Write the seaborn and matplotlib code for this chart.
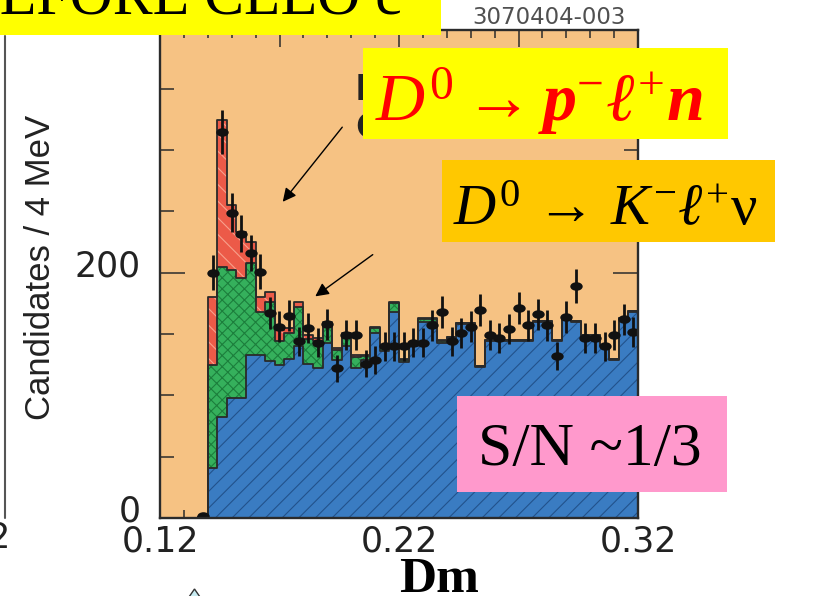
import numpy as np
import pandas as pd
import matplotlib
matplotlib.use("Agg")
import matplotlib.pyplot as plt
import seaborn as sns
from matplotlib.path import Path
from matplotlib.transforms import Affine2D, ScaledTranslation
from matplotlib.patches import Rectangle, Polygon, FancyArrowPatch
from matplotlib.lines import Line2D
from matplotlib.ticker import FixedLocator, FixedFormatter, MultipleLocator

# Mass-difference binning (GeV), 4 MeV per bin
dm_low = 0.120
dm_high = 0.320
n_bins = 50

# Fit components stacked in the histogram (candidates per bin)
combinatoric = [0, 0, 0, 0, 1,
                41, 82, 98, 98, 133,
                133, 128, 125, 130, 140,
                126, 122, 143, 129, 140,
                122, 129, 151, 136, 168,
                127, 140, 160, 160, 143,
                147, 158, 158, 123, 144,
                144, 144, 144, 144, 160,
                160, 144, 163, 160, 148,
                148, 140, 129, 162, 168]
k_lnu = [0, 0, 0, 0, 0,
         84, 123, 104, 98, 75,
         35, 48, 19, 21, 32,
         20, 22, 15, 8, 9,
         9, 3, 4, 4, 7,
         2, 2, 2, 2, 1,
         1, 1, 1, 1, 1,
         1, 1, 1, 1, 1,
         1, 1, 1, 1, 1,
         1, 1, 1, 1, 1]
pi_lnu = [0, 0, 0, 0, 0,
          55, 120, 53, 37, 17,
          12, 8, 9, 4, 4,
          3, 3, 2, 2, 2,
          2, 1, 1, 1, 1,
          1, 1, 1, 1, 1,
          0, 0, 0, 0, 0,
          0, 0, 0, 0, 0,
          0, 0, 0, 0, 0,
          0, 0, 0, 0, 0]
observed = [0, 0, 0, 0, 2,
            200, 315, 249, 232, 216,
            201, 167, 156, 165, 144,
            155, 143, 158, 122, 149,
            149, 126, 129, 140, 140,
            140, 143, 143, 157, 168,
            144, 151, 156, 170, 149,
            147, 154, 171, 157, 166,
            157, 132, 164, 189, 147,
            147, 140, 149, 162, 152]

x_major = [0.12, 0.17, 0.22, 0.27, 0.32]
x_major_labels = ["0.12", "", "0.22", "", "0.32"]
y_major = [0, 200, 400]
y_major_labels = ["0", "200", ""]

sns.set_style("ticks")
plt.rcParams["font.family"] = ["DejaVu Sans"]
plt.rcParams["mathtext.fontset"] = "custom"
plt.rcParams["mathtext.rm"] = "Liberation Serif"
plt.rcParams["mathtext.it"] = "Liberation Serif:italic"
plt.rcParams["mathtext.bf"] = "Liberation Serif:bold:italic"
plt.rcParams["hatch.linewidth"] = 0.8

W, H = 814, 596
fig = plt.figure(figsize=(W / 100, H / 100), dpi=100)
fig.patch.set_facecolor("white")


def fx(px):
    return px / W


def fy(py):
    return 1 - py / H


ORANGE = "#F6C283"
BLUE = "#3A7CC2"
GREEN = "#35B05C"
RED = "#EC5A48"
OUTLINE = "#2a2a2a"

ax = fig.add_axes([fx(160), fy(518), (638 - 160) / W, (518 - 30) / H])
ax.set_facecolor(ORANGE)

bin_width = (dm_high - dm_low) / n_bins
centers = dm_low + bin_width * (np.arange(n_bins) + 0.5)
df = pd.DataFrame({
    "dm": centers,
    "comb": combinatoric,
    "k": k_lnu,
    "pi": pi_lnu,
    "obs": observed,
})
df["comb_k"] = df["comb"] + df["k"]
df["total"] = df["comb_k"] + df["pi"]

hist_kws = dict(bins=n_bins, binrange=(dm_low, dm_high), element="step")

# filled, hatched layers: total (pi on top), comb+K, comb
layers = [
    ("total", RED, "#F7A08C", "\\\\"),
    ("comb_k", GREEN, "#1C7E3C", "xxx"),
    ("comb", BLUE, "#22528C", "//"),
]
for col, fc, hc, hatch in layers:
    n0 = len(ax.collections)
    sns.histplot(data=df, x="dm", weights=col, fill=True, color=fc, alpha=1,
                 linewidth=0, ax=ax, **hist_kws)
    poly = ax.collections[n0]
    poly.set_facecolor(fc)
    poly.set_edgecolor(hc)
    poly.set_linewidth(0)
    poly.set_hatch(hatch)

# outlines of every layer
for col, _, _, _ in layers:
    n0 = len(ax.collections)
    sns.histplot(data=df, x="dm", weights=col, fill=True, color=OUTLINE,
                 alpha=1, linewidth=1.3, ax=ax, **hist_kws)
    poly = ax.collections[n0]
    poly.set_facecolor("none")
    poly.set_edgecolor(OUTLINE)
    poly.set_linewidth(1.3)

# data points with Poisson errors
obs = df[df["obs"] > 0]
ax.errorbar(obs["dm"], obs["obs"], yerr=np.sqrt(obs["obs"]), fmt="none",
            ecolor="#111111", elinewidth=2.0, capsize=0, zorder=5)
ellipse = Path.unit_circle().transformed(Affine2D().scale(1.45, 1.0))
sns.scatterplot(data=obs, x="dm", y="obs", marker=ellipse, s=80,
                color="#111111", edgecolor="#111111", linewidth=0,
                zorder=6, legend=False, ax=ax)

ax.set_xlim(dm_low, dm_high)
ax.set_ylim(0, 398)
ax.set_xlabel("")
ax.set_ylabel("Candidates / 4 MeV", fontsize=25, family="Liberation Sans",
              color="#222222")
ax.yaxis.set_label_coords((57 - 160) / 478, (518 - 267) / 488)

ax.xaxis.set_major_locator(FixedLocator(x_major))
ax.xaxis.set_major_formatter(FixedFormatter(x_major_labels))
ax.xaxis.set_minor_locator(MultipleLocator(0.01))
ax.yaxis.set_major_locator(FixedLocator(y_major))
ax.yaxis.set_major_formatter(FixedFormatter(y_major_labels))
ax.yaxis.set_minor_locator(MultipleLocator(50))

ax.tick_params(which="both", direction="in", top=True, right=True,
               colors="#2b2b2b", width=1.1, labelsize=25, labelcolor="#222222")
ax.tick_params(axis="x", which="major", length=12, pad=5)
ax.tick_params(axis="x", which="minor", length=6)
ax.tick_params(axis="y", which="major", length=18, pad=14)
ax.tick_params(axis="y", which="minor", length=10)
for sp in ax.spines.values():
    sp.set_linewidth(1.7)
    sp.set_color("#2b2b2b")
    sp.set_zorder(7)

shift_up = ScaledTranslation(0, 10 / 100, fig.dpi_scale_trans)
for lab in ax.get_yticklabels():
    lab.set_transform(lab.get_transform() + shift_up)

# --- slide decorations around the plot ---
# neighbouring panel edge and its last tick label
fig.add_artist(Line2D([fx(5), fx(5)], [fy(36), fy(518)], color="#555555",
                      lw=1.5, transform=fig.transFigure))
fig.text(fx(11), fy(538), "0.32", ha="right", va="center", fontsize=25,
         color="#222222")

# heading strip
fig.add_artist(Rectangle((fx(0), fy(35)), fx(441), 35 / H, transform=fig.transFigure,
                         facecolor="#FFFF00", edgecolor="none", zorder=5))
fig.text(fx(-40), fy(13), "BEFORE CLEO c", family="Liberation Serif",
         fontsize=43, ha="left", va="baseline", color="black", zorder=6)

fig.text(fx(549), fy(18), "3070404-003", ha="center", va="center",
         fontsize=16.5, color="#505050", zorder=6)

# partly covered legend lines
fig.text(fx(355), fy(100), "Data", fontsize=26, weight="bold",
         color="#222222", ha="left", va="baseline", zorder=4)
fig.text(fx(355), fy(137), "Comb.", fontsize=26, weight="bold",
         color="#222222", ha="left", va="baseline", zorder=4)

# pi l nu box
fig.add_artist(Rectangle((fx(363), fy(139)), (728 - 363) / W, (139 - 48) / H,
                         transform=fig.transFigure, facecolor="#FFFF00",
                         edgecolor="none", zorder=5))
fig.text(fx(375), fy(122), r"$D^{0}\rightarrow\mathbf{p}^{-}\ell^{+}\mathbf{n}$",
         fontsize=49, color="#FF0000", ha="left", va="baseline", zorder=6)

# K l nu box
fig.add_artist(Rectangle((fx(442), fy(242)), (775 - 442) / W, (242 - 160) / H,
                         transform=fig.transFigure, facecolor="#FFC800",
                         edgecolor="none", zorder=5))
fig.text(fx(453), fy(225), r"$D^{0}\,\rightarrow\,K^{-}\ell^{+}\mathrm{\nu}$",
         fontsize=42, color="black", ha="left", va="baseline", zorder=6)

# signal-to-noise box
fig.add_artist(Rectangle((fx(457), fy(492)), (727 - 457) / W, (492 - 396) / H,
                         transform=fig.transFigure, facecolor="#FF99CC",
                         edgecolor="none", zorder=5))
fig.text(fx(478), fy(465), "S/N ~1/3", family="Liberation Serif", fontsize=44.5,
         color="black", ha="left", va="baseline", zorder=6)

# arrows to the two signal components
for (x0, y0), (x1, y1) in [((344, 125), (281, 204)), ((375, 253), (313, 298))]:
    fig.add_artist(FancyArrowPatch((fx(x0), fy(y0)), (fx(x1), fy(y1)),
                                   transform=fig.transFigure, arrowstyle="-|>",
                                   mutation_scale=20, lw=1.0, color="black",
                                   zorder=6))

# axis title under the plot
fig.text(fx(439), fy(592), "Dm", family="Liberation Serif", weight="bold",
         fontsize=37, color="black", ha="center", va="baseline", zorder=6)

# tip of a hat glyph at the bottom edge
fig.add_artist(Polygon([(fx(189), fy(597)), (fx(194.5), fy(589)), (fx(200), fy(597))],
                       closed=True, transform=fig.transFigure, facecolor="#C8ECF2",
                       edgecolor="#333333", lw=1.0, zorder=6))

fig.savefig("out.png", dpi=100)
